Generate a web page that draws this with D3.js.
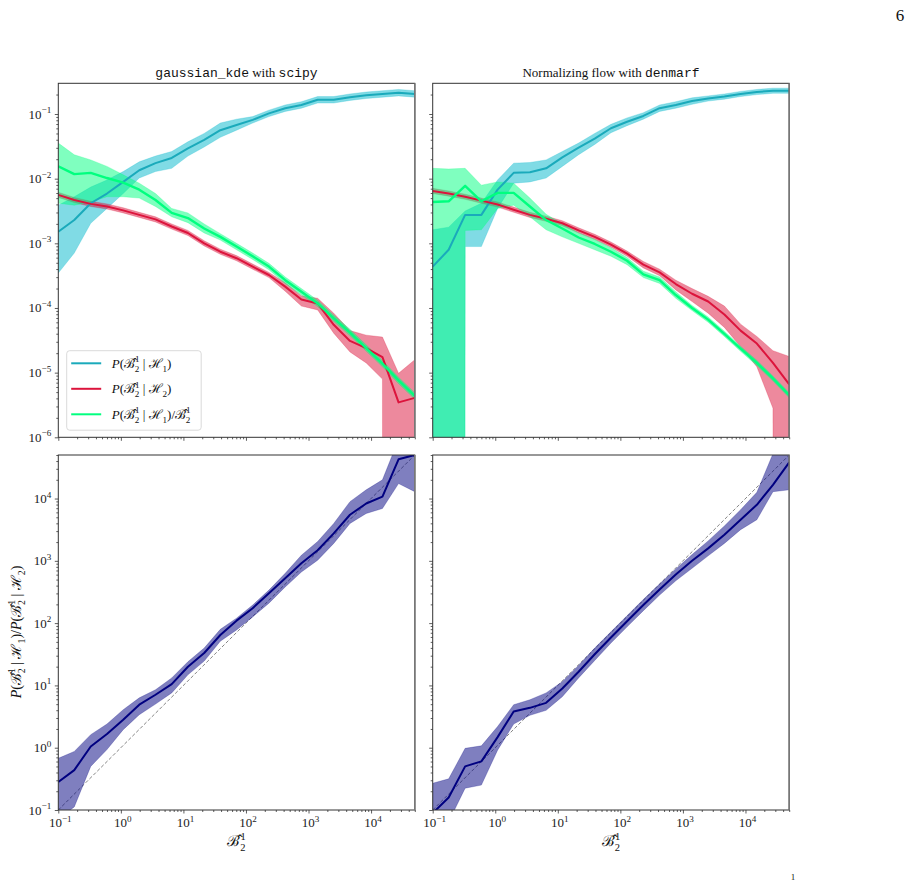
<!DOCTYPE html>
<html>
<head>
<meta charset="utf-8">
<script src="https://cdn.jsdelivr.net/npm/d3@7"></script>
<style>
  body { margin: 0; background: #fff; }
  svg { display: block; font-family: "Liberation Serif", "DejaVu Serif", serif; }
</style>
</head>
<body>
<svg id="fig" width="912" height="893"></svg>
<script>
// Bayes factor grid (x values shared by every curve)
const bayesFactor = [0.1, 0.18, 0.33, 0.6, 1.09, 1.97, 3.58, 6.5, 11.8, 21.5, 38.9, 70.7,
  128, 233, 424, 769, 1400, 2530, 4600, 8360, 15200, 27500, 50000];

// All curve values below are log10 of the plotted quantity.
// null = zero (band drops off the bottom of the log axis)

// gaussian_kde with scipy -- P(B|H1)
const kdeH1    = [-2.82,-2.64,-2.38,-2.23,-2.05,-1.87,-1.76,-1.68,-1.53,-1.40,-1.25,-1.17,-1.09,-0.99,-0.91,-0.86,-0.78,-0.78,-0.74,-0.71,-0.69,-0.67,-0.69];
const kdeH1Hi  = [-2.41,-2.28,-2.13,-2.02,-1.89,-1.74,-1.65,-1.58,-1.43,-1.30,-1.14,-1.08,-1.04,-0.94,-0.86,-0.81,-0.73,-0.73,-0.69,-0.66,-0.64,-0.62,-0.64];
const kdeH1Lo  = [-3.46,-3.15,-2.69,-2.46,-2.23,-1.99,-1.89,-1.84,-1.65,-1.51,-1.36,-1.25,-1.14,-1.04,-0.96,-0.91,-0.83,-0.83,-0.79,-0.76,-0.74,-0.72,-0.74];
// P(B|H2)
const kdeH2    = [-2.25,-2.33,-2.39,-2.43,-2.49,-2.56,-2.63,-2.74,-2.84,-3.00,-3.13,-3.23,-3.36,-3.49,-3.67,-3.87,-3.93,-4.26,-4.51,-4.62,-4.76,-5.46,-5.39];
const kdeH2Hi  = [-2.21,-2.29,-2.35,-2.39,-2.45,-2.52,-2.59,-2.70,-2.80,-2.96,-3.09,-3.19,-3.32,-3.45,-3.61,-3.81,-3.85,-4.08,-4.35,-4.42,-4.45,-5.01,-4.80];
const kdeH2Lo  = [-2.29,-2.37,-2.43,-2.47,-2.53,-2.60,-2.67,-2.78,-2.88,-3.04,-3.17,-3.27,-3.40,-3.53,-3.74,-3.97,-4.03,-4.39,-4.68,-4.85,-5.10,null,null];
// P(B|H1)/B
const kdeRatio   = [-1.81,-1.93,-1.91,-1.99,-2.06,-2.17,-2.33,-2.53,-2.61,-2.77,-2.90,-3.05,-3.20,-3.36,-3.57,-3.75,-3.93,-4.16,-4.38,-4.62,-4.86,-5.12,-5.36];
const kdeRatioHi = [-1.45,-1.63,-1.71,-1.81,-1.94,-2.07,-2.23,-2.46,-2.53,-2.70,-2.85,-3.00,-3.15,-3.31,-3.52,-3.70,-3.88,-4.11,-4.33,-4.57,-4.81,-5.07,-5.31];
const kdeRatioLo = [-2.38,-2.41,-2.36,-2.28,-2.28,-2.30,-2.43,-2.59,-2.68,-2.84,-2.95,-3.10,-3.25,-3.41,-3.62,-3.80,-3.98,-4.21,-4.43,-4.67,-4.91,-5.17,-5.41];

// Normalizing flow with denmarf -- P(B|H1)
const flowH1    = [-3.36,-3.10,-2.56,-2.56,-2.17,-1.91,-1.90,-1.84,-1.67,-1.52,-1.38,-1.22,-1.12,-1.03,-0.91,-0.86,-0.80,-0.76,-0.73,-0.69,-0.66,-0.64,-0.64];
const flowH1Hi  = [-2.79,-2.75,-2.50,-2.38,-2.02,-1.76,-1.75,-1.71,-1.58,-1.45,-1.30,-1.16,-1.06,-0.98,-0.86,-0.81,-0.75,-0.72,-0.69,-0.65,-0.62,-0.60,-0.60];
const flowH1Lo  = [null,null,-3.05,-3.05,-2.46,-2.07,-2.05,-1.99,-1.81,-1.63,-1.47,-1.29,-1.18,-1.08,-0.96,-0.91,-0.85,-0.80,-0.77,-0.73,-0.70,-0.68,-0.68];
// P(B|H2)
const flowH2    = [-2.19,-2.23,-2.28,-2.34,-2.40,-2.48,-2.56,-2.62,-2.69,-2.80,-2.90,-3.02,-3.16,-3.33,-3.45,-3.63,-3.78,-3.90,-4.10,-4.35,-4.55,-4.85,-5.18];
const flowH2Hi  = [-2.15,-2.19,-2.24,-2.30,-2.36,-2.44,-2.52,-2.58,-2.65,-2.76,-2.86,-2.98,-3.12,-3.28,-3.40,-3.57,-3.70,-3.82,-3.97,-4.25,-4.44,-4.66,-4.75];
const flowH2Lo  = [-2.23,-2.27,-2.32,-2.38,-2.44,-2.52,-2.60,-2.66,-2.73,-2.84,-2.94,-3.06,-3.20,-3.38,-3.50,-3.72,-3.90,-4.08,-4.30,-4.60,-4.91,-5.55,null];
// P(B|H1)/B
const flowRatio   = [-2.36,-2.35,-2.11,-2.35,-2.22,-2.22,-2.43,-2.64,-2.77,-2.91,-3.01,-3.13,-3.27,-3.48,-3.57,-3.80,-4.00,-4.18,-4.40,-4.63,-4.85,-5.09,-5.35];
const flowRatioHi = [-1.84,-1.85,-1.84,-2.10,-2.05,-2.07,-2.30,-2.55,-2.70,-2.84,-2.94,-3.07,-3.22,-3.43,-3.52,-3.75,-3.96,-4.14,-4.36,-4.59,-4.81,-5.05,-5.31];
const flowRatioLo = [null,null,-2.80,-2.79,-2.46,-2.41,-2.59,-2.79,-2.90,-3.00,-3.10,-3.20,-3.33,-3.53,-3.62,-3.85,-4.04,-4.22,-4.44,-4.67,-4.89,-5.13,-5.39];

// P(B|H1)/P(B|H2), bottom row
const kdeBF    = [-0.55,-0.36,0.02,0.22,0.45,0.69,0.85,1.02,1.30,1.52,1.81,2.04,2.24,2.48,2.72,2.96,3.17,3.44,3.74,3.92,4.03,4.63,4.70];
const kdeBFHi  = [-0.17,-0.06,0.21,0.38,0.61,0.80,0.93,1.12,1.38,1.60,1.90,2.08,2.29,2.53,2.80,3.09,3.31,3.60,3.95,4.14,4.30,4.95,4.95];
const kdeBFLo  = [-1.15,-0.95,-0.30,-0.03,0.29,0.53,0.70,0.88,1.17,1.39,1.71,1.89,2.10,2.32,2.58,2.82,3.01,3.28,3.60,3.76,3.84,4.24,4.11];
const flowBF   = [-1.05,-0.80,-0.30,-0.22,0.17,0.58,0.64,0.72,0.95,1.22,1.50,1.77,2.03,2.29,2.54,2.78,3.00,3.20,3.42,3.66,3.90,4.22,4.58];
const flowBFHi = [-0.57,-0.50,-0.01,0.03,0.34,0.69,0.77,0.88,1.06,1.32,1.60,1.86,2.12,2.38,2.63,2.87,3.10,3.32,3.56,3.82,4.10,4.72,5.00];
const flowBFLo = [-1.50,-1.19,-0.65,-0.60,-0.04,0.38,0.52,0.60,0.82,1.12,1.40,1.68,1.94,2.20,2.45,2.68,2.88,3.08,3.28,3.50,3.66,4.11,4.14];

// tick exponents
const xTickExps = [-1, 0, 1, 2, 3, 4];
const topTickExps = [-6, -5, -4, -3, -2, -1];
const botTickExps = [-1, 0, 1, 2, 3, 4];

const xDomain = [0.1, 5e4];
const topDomain = [1e-6, 0.2985];
const botDomain = [0.1, 5e4];

const cyan = '#17becf', crimson = '#dc143c', spring = '#00ff7f', navy = '#000080';

const svg = d3.select('#fig');
const pow10 = v => v === null ? 1e-300 : Math.pow(10, v);

function mathText(t, parts, size) {
  let base = 0;
  parts.forEach(([s, k]) => {
    let shift = 0, fs = size;
    if (k === 'sup') { shift = -0.42 * size; fs = 0.7 * size; }
    if (k === 'sub' || k === 'subback') { shift = 0.3 * size; fs = 0.7 * size; }
    const ts = t.append('tspan').attr('dy', shift - base).attr('font-size', fs).text(s);
    if (k === 'subback') ts.attr('dx', -0.36 * size);
    if (k === 'i') ts.attr('font-style', 'italic');
    base = shift;
  });
}

const bHat = [['ℬ̂', 'n'], ['1', 'sup'], ['2', 'subback']];

function minorTicks(exps, top) {
  const out = [];
  d3.range(exps[0], exps[exps.length - 1] + 1).forEach(e => {
    for (let m = 2; m <= 9; m++) {
      const v = m * Math.pow(10, e);
      if (v <= top) out.push(v);
    }
  });
  return out;
}

function drawPanel(p) {
  const g = svg.append('g').attr('transform', `translate(${p.x0},${p.y0})`);
  const x = d3.scaleLog().domain(xDomain).range([0, p.w]);
  const y = d3.scaleLog().domain(p.yDomain).range([p.h, 0]);

  g.append('clipPath').attr('id', 'clip' + p.id)
    .append('rect').attr('width', p.w).attr('height', p.h);
  const plot = g.append('g').attr('clip-path', `url(#clip${p.id})`);

  if (p.diagonal) {
    plot.append('line')
      .attr('x1', x(xDomain[0])).attr('y1', y(xDomain[0]))
      .attr('x2', x(xDomain[1])).attr('y2', y(xDomain[1]))
      .attr('stroke', '#777').attr('stroke-width', 0.9)
      .attr('stroke-dasharray', '3.5,2');
  }

  const area = s => d3.area()
    .x((d, i) => x(bayesFactor[i]))
    .y0((d, i) => y(pow10(s.lo[i])))
    .y1((d, i) => y(pow10(s.hi[i])))(s.mid);
  const line = s => d3.line()
    .x((d, i) => x(bayesFactor[i]))
    .y(d => y(pow10(d)))(s.mid);

  p.series.forEach(s => {
    plot.append('path').attr('d', area(s))
      .attr('fill', s.color).attr('fill-opacity', s.alpha)
      .attr('stroke', s.color).attr('stroke-opacity', s.alpha * 0.6).attr('stroke-width', 0.8);
  });
  p.series.forEach(s => {
    plot.append('path').attr('d', line(s))
      .attr('fill', 'none').attr('stroke', s.lineColor || s.color)
      .attr('stroke-width', s.width).attr('stroke-linejoin', 'round');
  });

  // ticks
  const tickStyle = sel => {
    sel.select('.domain').remove();
    sel.selectAll('line').attr('stroke', '#333').attr('stroke-width', 0.8);
  };
  const xMaj = xTickExps.map(e => Math.pow(10, e));
  const yMaj = p.yExps.map(e => Math.pow(10, e));
  g.append('g').attr('transform', `translate(0,${p.h})`)
    .call(d3.axisBottom(x).tickValues(xMaj).tickSize(3.5).tickFormat('')).call(tickStyle);
  g.append('g').attr('transform', `translate(0,${p.h})`)
    .call(d3.axisBottom(x).tickValues(minorTicks(xTickExps, xDomain[1])).tickSize(2).tickFormat('')).call(tickStyle);
  g.append('g')
    .call(d3.axisLeft(y).tickValues(yMaj).tickSize(3.5).tickFormat('')).call(tickStyle);
  g.append('g')
    .call(d3.axisLeft(y).tickValues(minorTicks(p.yExps, p.yDomain[1])).tickSize(2).tickFormat('')).call(tickStyle);

  if (p.xLabels) {
    xTickExps.forEach(e => {
      const t = g.append('text').attr('x', x(Math.pow(10, e)) + 2).attr('y', p.h + 17)
        .attr('text-anchor', 'middle').attr('font-size', 13).attr('fill', '#222');
      mathText(t, [['10', 'n'], [e < 0 ? '−' + (-e) : String(e), 'sup']], 13);
    });
  }
  if (p.yLabels) {
    p.yExps.forEach(e => {
      const t = g.append('text').attr('x', -7).attr('y', y(Math.pow(10, e)) + 4.5)
        .attr('text-anchor', 'end').attr('font-size', 13).attr('fill', '#222');
      mathText(t, [['10', 'n'], [e < 0 ? '−' + (-e) : String(e), 'sup']], 13);
    });
  }

  g.append('rect').attr('width', p.w).attr('height', p.h)
    .attr('fill', 'none').attr('stroke', '#333').attr('stroke-width', 1);
  g.append('line').attr('x1', p.w).attr('x2', p.w).attr('y1', 0).attr('y2', p.h)
    .attr('stroke', '#777').attr('stroke-width', 1.6);
  return g;
}

const topSeries = (h1, h1hi, h1lo, h2, h2hi, h2lo, r, rhi, rlo) => [
  {mid: h1, hi: h1hi, lo: h1lo, color: cyan, lineColor: '#1aaabb', alpha: 0.55, width: 2},
  {mid: h2, hi: h2hi, lo: h2lo, color: crimson, alpha: 0.5, width: 2},
  {mid: r, hi: rhi, lo: rlo, color: spring, alpha: 0.5, width: 2.4}
];

const W = 356.5;
drawPanel({id: 'tl', x0: 58.3, y0: 83.3, w: W, h: 354, yDomain: topDomain, yExps: topTickExps,
  yLabels: true, xLabels: false,
  series: topSeries(kdeH1, kdeH1Hi, kdeH1Lo, kdeH2, kdeH2Hi, kdeH2Lo, kdeRatio, kdeRatioHi, kdeRatioLo)});
drawPanel({id: 'tr', x0: 432.7, y0: 83.3, w: W, h: 354, yDomain: topDomain, yExps: topTickExps,
  yLabels: false, xLabels: false,
  series: topSeries(flowH1, flowH1Hi, flowH1Lo, flowH2, flowH2Hi, flowH2Lo, flowRatio, flowRatioHi, flowRatioLo)});
drawPanel({id: 'bl', x0: 58.3, y0: 455, w: W, h: 355, yDomain: botDomain, yExps: botTickExps,
  yLabels: true, xLabels: true, diagonal: true,
  series: [{mid: kdeBF, hi: kdeBFHi, lo: kdeBFLo, color: navy, alpha: 0.5, width: 2}]});
drawPanel({id: 'br', x0: 432.7, y0: 455, w: W, h: 355, yDomain: botDomain, yExps: botTickExps,
  yLabels: false, xLabels: true, diagonal: true,
  series: [{mid: flowBF, hi: flowBFHi, lo: flowBFLo, color: navy, alpha: 0.5, width: 2}]});

// titles
const mono = '"Liberation Mono", "DejaVu Sans Mono", monospace';
const t1 = svg.append('text').attr('x', 236.5).attr('y', 77).attr('text-anchor', 'middle')
  .attr('font-size', 13).attr('fill', '#111');
t1.append('tspan').attr('font-family', mono).text('gaussian_kde');
t1.append('tspan').text(' with ');
t1.append('tspan').attr('font-family', mono).text('scipy');
const t2 = svg.append('text').attr('x', 611).attr('y', 77).attr('text-anchor', 'middle')
  .attr('font-size', 13).attr('fill', '#111');
t2.append('tspan').text('Normalizing flow with ');
t2.append('tspan').attr('font-family', mono).text('denmarf');

// axis labels
[236.5, 611].forEach(cx => {
  const t = svg.append('text').attr('x', cx).attr('y', 846).attr('text-anchor', 'middle')
    .attr('font-size', 15).attr('fill', '#111');
  mathText(t, bHat, 15);
});
const yl = svg.append('text').attr('transform', 'translate(21,632) rotate(-90)')
  .attr('text-anchor', 'middle').attr('font-size', 14).attr('fill', '#111');
mathText(yl, [['P', 'i'], ['(', 'n'], ...bHat, [' | ', 'n'], ['ℋ', 'n'], ['1', 'sub'], [')/', 'n'],
  ['P', 'i'], ['(', 'n'], ...bHat, [' | ', 'n'], ['ℋ', 'n'], ['2', 'sub'], [')', 'n']], 14);

// legend
const legendItems = [
  {color: cyan, lineColor: '#1aaabb', parts: [['P', 'i'], ['(', 'n'], ...bHat, [' | ', 'n'], ['ℋ', 'n'], ['1', 'sub'], [')', 'n']]},
  {color: crimson, parts: [['P', 'i'], ['(', 'n'], ...bHat, [' | ', 'n'], ['ℋ', 'n'], ['2', 'sub'], [')', 'n']]},
  {color: spring, parts: [['P', 'i'], ['(', 'n'], ...bHat, [' | ', 'n'], ['ℋ', 'n'], ['1', 'sub'], [')/', 'n'], ...bHat]}
];
const lg = svg.append('g').attr('transform', 'translate(66.7,350.7)');
lg.append('rect').attr('width', 134.5).attr('height', 79.5).attr('rx', 3)
  .attr('fill', '#fff').attr('fill-opacity', 0.8).attr('stroke', '#d0d0d0').attr('stroke-width', 0.8);
legendItems.forEach((d, i) => {
  const cy = 12.6 + i * 25.5;
  lg.append('line').attr('x1', 4.5).attr('x2', 34.5).attr('y1', cy).attr('y2', cy)
    .attr('stroke', d.lineColor || d.color).attr('stroke-width', 2);
  const t = lg.append('text').attr('x', 45).attr('y', cy + 4.5).attr('font-size', 13).attr('fill', '#111');
  mathText(t, d.parts, 13);
});

// page number and cut-off footnote mark
svg.append('text').attr('x', 900).attr('y', 21).attr('text-anchor', 'middle')
  .attr('font-size', 17).attr('fill', '#111').text('6');
svg.append('text').attr('x', 793).attr('y', 880).attr('text-anchor', 'middle')
  .attr('font-size', 9).attr('fill', '#111').text('1');
</script>
</body>
</html>
